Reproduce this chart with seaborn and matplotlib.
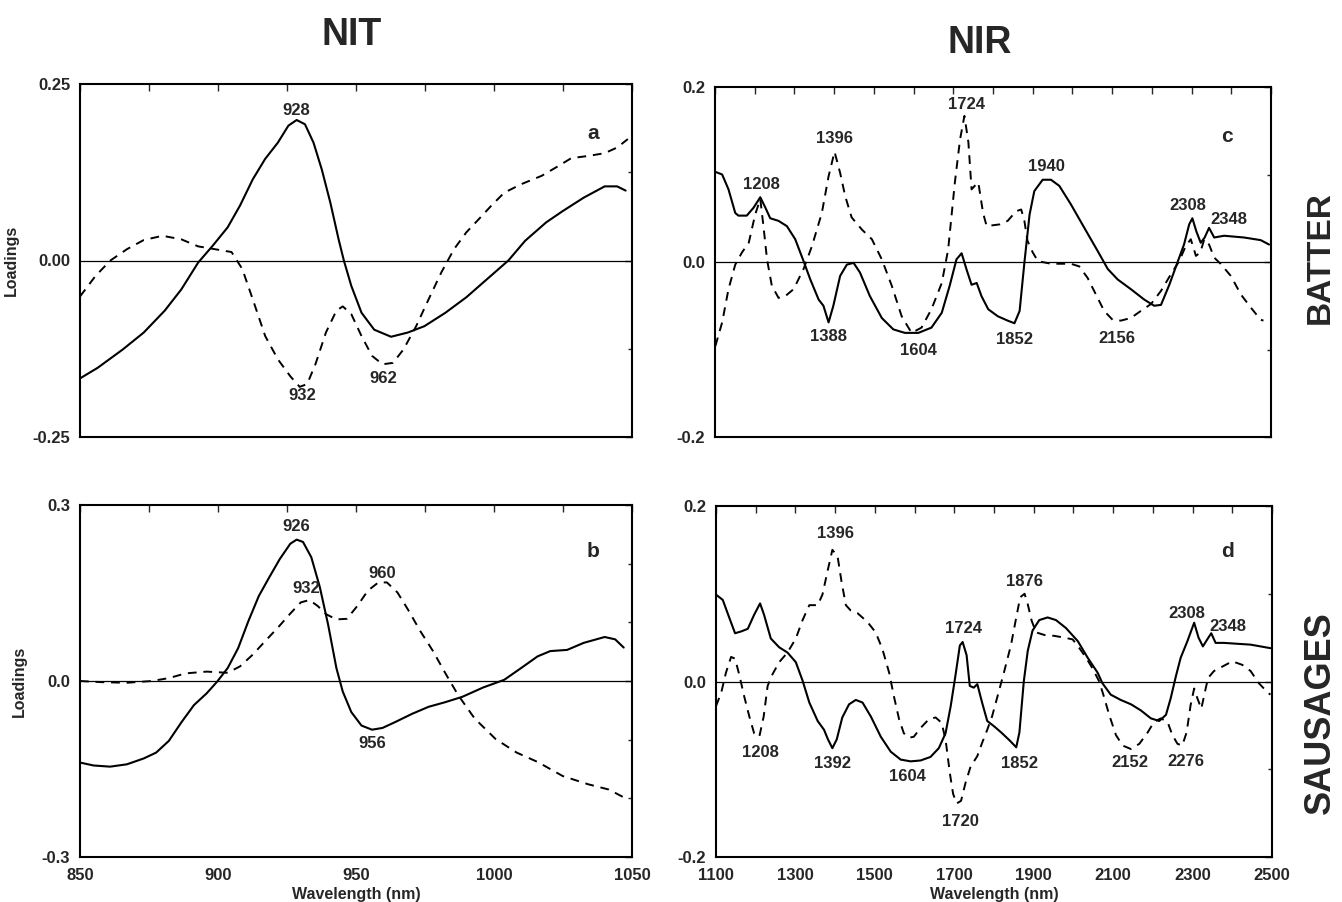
import pandas as pd
import seaborn as sns
import matplotlib.pyplot as plt
from matplotlib.ticker import FixedLocator, MultipleLocator

# --- NIT batter (a) ---
a_solid_x = [850, 856.4, 865.5, 873.1, 880.7, 886.7, 892.8, 898.1, 903.5, 908, 912.6, 917.1, 921.7, 925.5,
             928.5, 931.5, 934.6, 937.6, 940.7, 943.7, 945.6, 948.3, 952, 956.6, 962.7, 968.8, 974.8,
             982.4, 990, 997.6, 1005.2, 1011.3, 1018.9, 1024.9, 1032.5, 1040.1, 1044.6, 1047.7]
a_solid_y = [-0.167, -0.152, -0.126, -0.102, -0.071, -0.041, -0.003, 0.021, 0.047, 0.078, 0.115, 0.144,
             0.167, 0.191, 0.199, 0.193, 0.167, 0.129, 0.082, 0.030, 0.0, -0.036, -0.074, -0.098, -0.108,
             -0.102, -0.093, -0.074, -0.052, -0.026, 0.0, 0.028, 0.054, 0.070, 0.089, 0.105, 0.105, 0.099]
a_dash_x = [850, 855.6, 861, 867, 873.1, 879.9, 886.7, 892.8, 898.9, 904.9, 908.8, 912.6, 917.1, 921.7,
            926.2, 929.6, 932.3, 935.3, 939.1, 942.9, 945.2, 948.3, 952, 955.8, 959.6, 963.4, 967.2, 971.8,
            976.3, 980.9, 985.5, 990, 994.6, 999.1, 1003.7, 1009.8, 1017.3, 1023.4, 1028, 1034, 1040.1,
            1044.6, 1048.5]
a_dash_y = [-0.051, -0.022, 0.0, 0.016, 0.029, 0.035, 0.030, 0.020, 0.016, 0.012, -0.012, -0.055, -0.107,
            -0.140, -0.164, -0.179, -0.175, -0.147, -0.102, -0.071, -0.065, -0.076, -0.107, -0.135,
            -0.147, -0.145, -0.126, -0.093, -0.055, -0.017, 0.016, 0.040, 0.059, 0.078, 0.096, 0.108,
            0.120, 0.134, 0.145, 0.148, 0.152, 0.160, 0.172]

# --- NIT sausages (b) ---
b_solid_x = [850, 854.9, 860.9, 867, 873.1, 877.6, 882.2, 886.8, 891.3, 895.9, 899.7, 903.5, 907.3, 911,
             914.8, 918.6, 922.4, 926.2, 928.5, 930.8, 933.8, 936.9, 939.9, 942.9, 945.2, 948.3, 952,
             955.8, 959.6, 964.2, 970.3, 976.3, 982.4, 988.5, 996.1, 1003.7, 1009.8, 1015.8, 1020.4,
             1026.5, 1032.5, 1040.1, 1043.9, 1047]
b_solid_y = [-0.139, -0.144, -0.146, -0.142, -0.132, -0.122, -0.102, -0.070, -0.041, -0.021, -0.001, 0.022,
             0.056, 0.102, 0.145, 0.177, 0.208, 0.234, 0.241, 0.237, 0.211, 0.160, 0.096, 0.022, -0.018,
             -0.053, -0.076, -0.083, -0.080, -0.070, -0.056, -0.044, -0.036, -0.027, -0.011, 0.002, 0.022,
             0.042, 0.051, 0.053, 0.065, 0.075, 0.071, 0.057]
b_dash_x = [850, 857.9, 867, 876.1, 882.2, 888.3, 895.9, 903.5, 908, 912.6, 917.1, 921.7, 926.2, 930, 933.1,
            936.1, 939.1, 942.9, 946.7, 950.5, 954.3, 958.1, 961.2, 965, 968.8, 973.3, 977.9, 982.4, 987,
            993, 1000.6, 1008.2, 1015.8, 1024.9, 1034.1, 1041.6, 1048.5]
b_dash_y = [0.0, -0.002, -0.003, 0.0, 0.005, 0.013, 0.016, 0.014, 0.025, 0.045, 0.068, 0.091, 0.115, 0.134,
            0.138, 0.128, 0.114, 0.105, 0.106, 0.128, 0.154, 0.168, 0.168, 0.151, 0.122, 0.085, 0.051,
            0.013, -0.024, -0.064, -0.099, -0.122, -0.138, -0.162, -0.176, -0.185, -0.202]

# --- NIR batter (c) ---
c_solid_x = [1101, 1118, 1134, 1151, 1159, 1180, 1197, 1214, 1227, 1239, 1260, 1281, 1302, 1323, 1340,
             1361, 1373, 1386, 1398, 1415, 1432, 1449, 1465, 1490, 1520, 1549, 1578, 1612, 1645, 1671,
             1691, 1708, 1721, 1733, 1746, 1759, 1771, 1788, 1812, 1837, 1854, 1867, 1879, 1892, 1904,
             1925, 1946, 1967, 1996, 2030, 2063, 2089, 2114, 2147, 2181, 2206, 2223, 2244, 2264, 2281,
             2294, 2302, 2312, 2323, 2333, 2344, 2357, 2382, 2432, 2474, 2495]
c_solid_y = [0.103, 0.100, 0.083, 0.056, 0.053, 0.053, 0.062, 0.074, 0.062, 0.050, 0.047, 0.041, 0.026,
             0.001, -0.020, -0.043, -0.050, -0.069, -0.050, -0.016, -0.003, -0.001, -0.012, -0.039,
             -0.064, -0.077, -0.081, -0.081, -0.075, -0.058, -0.027, 0.003, 0.010, -0.008, -0.026,
             -0.024, -0.039, -0.054, -0.062, -0.067, -0.070, -0.056, -0.001, 0.054, 0.081, 0.094, 0.094,
             0.087, 0.066, 0.039, 0.013, -0.008, -0.020, -0.031, -0.043, -0.050, -0.049, -0.026, -0.001,
             0.020, 0.043, 0.050, 0.035, 0.022, 0.028, 0.039, 0.028, 0.030, 0.028, 0.025, 0.020]
c_dash_x = [1101, 1118, 1134, 1151, 1168, 1185, 1201, 1214, 1222, 1231, 1243, 1260, 1277, 1298, 1323, 1344,
            1369, 1386, 1401, 1415, 1428, 1444, 1470, 1495, 1520, 1545, 1570, 1595, 1620, 1645, 1671,
            1687, 1704, 1717, 1728, 1738, 1746, 1754, 1763, 1775, 1784, 1800, 1817, 1837, 1858, 1871,
            1879, 1887, 1900, 1913, 1946, 1996, 2017, 2038, 2059, 2080, 2101, 2122, 2147, 2172, 2198,
            2223, 2248, 2269, 2285, 2298, 2311, 2322, 2332, 2344, 2357, 2373, 2399, 2424, 2449, 2474,
            2481]
c_dash_y = [-0.096, -0.069, -0.031, -0.003, 0.011, 0.022, 0.054, 0.072, 0.041, 0.003, -0.027, -0.041,
            -0.039, -0.031, -0.008, 0.018, 0.056, 0.098, 0.126, 0.102, 0.075, 0.051, 0.037, 0.026, 0.003,
            -0.027, -0.062, -0.081, -0.075, -0.054, -0.024, 0.014, 0.091, 0.140, 0.167, 0.137, 0.083,
            0.087, 0.091, 0.056, 0.041, 0.042, 0.043, 0.047, 0.058, 0.060, 0.047, 0.024, 0.011, 0.001,
            -0.002, -0.002, -0.005, -0.018, -0.037, -0.056, -0.066, -0.067, -0.064, -0.056, -0.048,
            -0.033, -0.014, 0.001, 0.018, 0.026, 0.007, 0.011, 0.026, 0.020, 0.005, -0.002, -0.016,
            -0.037, -0.052, -0.066, -0.067]

# --- NIR sausages (d) ---
d_solid_x = [1100, 1117, 1134, 1148, 1163, 1180, 1196, 1211, 1221, 1238, 1259, 1280, 1301, 1318, 1335,
             1356, 1372, 1382, 1393, 1404, 1418, 1435, 1452, 1469, 1490, 1515, 1540, 1565, 1590, 1615,
             1640, 1661, 1678, 1691, 1703, 1714, 1721, 1731, 1739, 1749, 1758, 1770, 1783, 1800, 1818,
             1839, 1856, 1864, 1875, 1885, 1897, 1914, 1935, 1956, 1981, 2011, 2036, 2061, 2073, 2094,
             2119, 2145, 2170, 2195, 2216, 2233, 2245, 2258, 2270, 2287, 2304, 2315, 2326, 2337, 2347,
             2358, 2379, 2446, 2496]
d_solid_y = [0.099, 0.093, 0.072, 0.055, 0.057, 0.060, 0.076, 0.089, 0.076, 0.049, 0.039, 0.033, 0.022,
             0.001, -0.024, -0.045, -0.055, -0.066, -0.076, -0.066, -0.041, -0.026, -0.021, -0.024,
             -0.040, -0.063, -0.080, -0.089, -0.091, -0.090, -0.086, -0.076, -0.059, -0.028, 0.007,
             0.041, 0.045, 0.030, -0.005, -0.007, -0.003, -0.024, -0.045, -0.051, -0.058, -0.067,
             -0.075, -0.058, 0.0, 0.035, 0.058, 0.070, 0.073, 0.070, 0.061, 0.046, 0.027, 0.010, -0.002,
             -0.015, -0.021, -0.026, -0.033, -0.042, -0.045, -0.038, -0.019, 0.006, 0.027, 0.046, 0.067,
             0.050, 0.040, 0.048, 0.055, 0.044, 0.044, 0.042, 0.038]
d_dash_x = [1100, 1113, 1125, 1138, 1148, 1159, 1171, 1184, 1196, 1209, 1220, 1230, 1242, 1259, 1280, 1301,
            1318, 1335, 1356, 1368, 1381, 1393, 1406, 1416, 1427, 1439, 1456, 1481, 1502, 1519, 1536,
            1548, 1561, 1573, 1586, 1598, 1615, 1636, 1653, 1668, 1678, 1689, 1697, 1706, 1717, 1728,
            1741, 1758, 1770, 1783, 1795, 1810, 1826, 1843, 1856, 1866, 1877, 1885, 1895, 1906, 1927,
            1952, 1977, 1998, 2015, 2032, 2048, 2065, 2078, 2090, 2107, 2124, 2145, 2166, 2187, 2203,
            2220, 2237, 2249, 2262, 2274, 2285, 2295, 2304, 2312, 2322, 2331, 2339, 2354, 2375, 2400,
            2425, 2446, 2467, 2488, 2496]
d_dash_y = [-0.028, -0.013, 0.010, 0.028, 0.026, 0.007, -0.017, -0.040, -0.059, -0.063, -0.040, -0.005,
            0.008, 0.022, 0.033, 0.049, 0.070, 0.087, 0.087, 0.099, 0.126, 0.150, 0.143, 0.114, 0.087,
            0.081, 0.078, 0.068, 0.056, 0.037, 0.010, -0.017, -0.043, -0.059, -0.064, -0.063, -0.053,
            -0.043, -0.041, -0.047, -0.066, -0.105, -0.128, -0.139, -0.136, -0.116, -0.097, -0.085,
            -0.070, -0.055, -0.040, -0.015, 0.012, 0.042, 0.073, 0.096, 0.100, 0.088, 0.069, 0.056,
            0.053, 0.052, 0.050, 0.048, 0.038, 0.027, 0.015, 0.0, -0.019, -0.038, -0.061, -0.073,
            -0.077, -0.071, -0.058, -0.046, -0.042, -0.046, -0.061, -0.071, -0.073, -0.058, -0.027,
            -0.008, -0.019, -0.031, -0.012, 0.004, 0.012, 0.017, 0.023, 0.019, 0.012, -0.002, -0.012,
            -0.015]

# peak labels: (text, x, y)
a_labels = [("928", 928.5, 0.212), ("932", 930.6, -0.191), ("962", 959.7, -0.167)]
b_labels = [("926", 928.5, 0.263), ("932", 932, 0.157), ("960", 959.6, 0.183), ("956", 955.8, -0.107)]
c_labels = [("1208", 1216, 0.089), ("1396", 1401, 0.141), ("1724", 1733, 0.180), ("1940", 1934, 0.109),
            ("2308", 2290, 0.065), ("2348", 2394, 0.048), ("1388", 1387, -0.085), ("1604", 1612, -0.101),
            ("1852", 1854, -0.088), ("2156", 2112, -0.087)]
d_labels = [("1396", 1402, 0.169), ("1876", 1877, 0.114), ("1724", 1722, 0.060), ("2308", 2285, 0.078),
            ("2348", 2388, 0.063), ("1208", 1211, -0.081), ("1392", 1393, -0.093), ("1604", 1582, -0.108),
            ("1852", 1864, -0.094), ("2152", 2143, -0.092), ("2276", 2283, -0.091), ("1720", 1716, -0.160)]

sns.set_style("white")
plt.rcParams['font.family'] = ['Liberation Sans', 'DejaVu Sans']
plt.rcParams['font.weight'] = 'bold'

W, H = 1342, 902
fig = plt.figure(figsize=(W / 100, H / 100), dpi=100)


def box(l, t, r, b):
    return [l / W, 1 - b / H, (r - l) / W, (b - t) / H]


def draw_panel(rect, sx, sy, dx, dy, labels, letter, xlim, ylim, xstep, xlab_step, ytick, ystep, yfmt,
               bottom, ylab_x=None):
    ax = fig.add_axes(box(*rect))
    solid = pd.DataFrame({"wl": sx, "load": sy})
    dash = pd.DataFrame({"wl": dx, "load": dy})
    ax.axhline(0, color="black", lw=0.9, zorder=1)
    sns.lineplot(data=dash, x="wl", y="load", ax=ax, color="black", lw=1.4, estimator=None,
                 linestyle=(0, (4.5, 3.5)))
    sns.lineplot(data=solid, x="wl", y="load", ax=ax, color="black", lw=1.5, estimator=None)
    for txt, x, y in labels:
        ax.text(x, y, txt, ha="center", va="center", fontsize=12, fontweight="bold")
    ax.text(letter[1], letter[2], letter[0], ha="center", va="center", fontsize=15, fontweight="bold")
    ax.set_xlim(*xlim)
    ax.set_ylim(*ylim)
    xt = list(range(xlim[0], xlim[1] + 1, xstep))
    ax.xaxis.set_major_locator(FixedLocator(xt))
    if bottom:
        ax.set_xticklabels([str(v) if (v - xlim[0]) % xlab_step == 0 else "" for v in xt])
        ax.set_xlabel("Wavelength (nm)", fontsize=11.5, fontweight="bold", labelpad=3)
    else:
        ax.set_xticklabels([])
        ax.set_xlabel("")
    ax.yaxis.set_major_locator(FixedLocator(ytick))
    ax.set_yticklabels([yfmt.format(v) for v in ytick])
    ax.yaxis.set_minor_locator(MultipleLocator(ystep))
    if ylab_x is not None:
        ax.set_ylabel("Loadings", fontsize=11.5, fontweight="bold")
        ax.yaxis.set_label_coords(ylab_x, 0.5)
    else:
        ax.set_ylabel("")
    ax.tick_params(axis="both", which="both", direction="in", top=True, right=True, length=5,
                   width=1, labelsize=12)
    ax.tick_params(axis="x", pad=8)
    ax.tick_params(axis="y", pad=7)
    ax.tick_params(axis="y", which="minor", length=3)
    for lab in ax.get_xticklabels() + ax.get_yticklabels():
        lab.set_fontweight("bold")
    for s in ax.spines.values():
        s.set_linewidth(1.5)
        s.set_color("black")
    return ax


draw_panel((80, 84, 632, 437), a_solid_x, a_solid_y, a_dash_x, a_dash_y, a_labels, ("a", 1036, 0.18),
           (850, 1050), (-0.25, 0.25), 25, 50, [-0.25, 0.0, 0.25], 0.125, "{:.2f}", False, -0.11)
draw_panel((80, 505, 632, 857), b_solid_x, b_solid_y, b_dash_x, b_dash_y, b_labels, ("b", 1036, 0.22),
           (850, 1050), (-0.3, 0.3), 25, 50, [-0.3, 0.0, 0.3], 0.1, "{:.1f}", True, -0.096)
draw_panel((715, 87, 1271, 437), c_solid_x, c_solid_y, c_dash_x, c_dash_y, c_labels, ("c", 2390, 0.144),
           (1100, 2500), (-0.2, 0.2), 100, 200, [-0.2, 0.0, 0.2], 0.1, "{:.1f}", False)
draw_panel((716, 506, 1272, 857), d_solid_x, d_solid_y, d_dash_x, d_dash_y, d_labels, ("d", 2388, 0.148),
           (1100, 2500), (-0.2, 0.2), 100, 200, [-0.2, 0.0, 0.2], 0.1, "{:.1f}", True)

fig.text(352 / W, 1 - 35 / H, "NIT", ha="center", va="center", fontsize=27, fontweight="bold")
fig.text(980 / W, 1 - 43 / H, "NIR", ha="center", va="center", fontsize=27, fontweight="bold")
fig.text(1320 / W, 1 - 258 / H, "BATTER", ha="center", va="center", rotation=90, fontsize=24,
         fontweight="bold")
fig.text(1320 / W, 1 - 713 / H, "SAUSAGES", ha="center", va="center", rotation=90, fontsize=26,
         fontweight="bold")

fig.savefig("out.png", dpi=100, facecolor="white")
